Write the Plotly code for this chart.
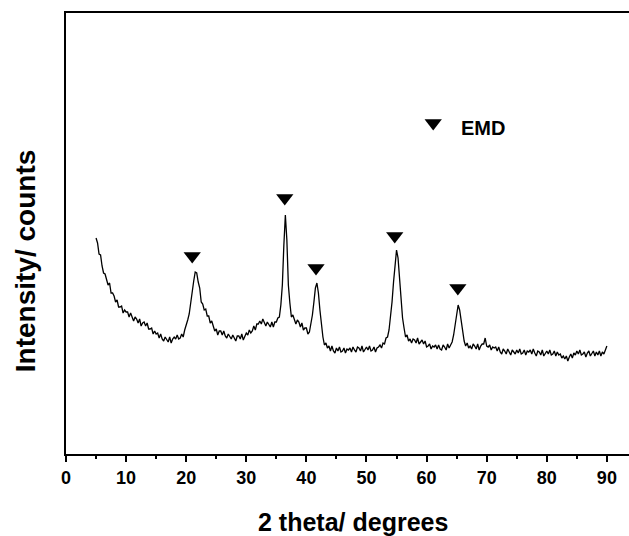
import numpy as np
import plotly.graph_objects as go

# scan grid (2-theta, degrees), 0.25 deg steps from 5 to 90
two_theta = list(np.round(np.arange(5.0, 90.001, 0.25), 2))

# intensity (arbitrary counts)
intensity = [
    215, 210, 199, 198, 187, 180, 179, 174, 168, 170,
    160, 160, 157, 151, 153, 146, 146, 147, 140, 143,
    141, 141, 136, 140, 135, 132, 136, 134, 130, 134,
    127, 130, 131, 127, 130, 124, 124, 125, 119, 122,
    119, 120, 115, 119, 114, 112, 116, 114, 111, 116,
    110, 114, 116, 114, 118, 114, 115, 119, 116, 123,
    127, 133, 139, 151, 161, 172, 181, 180, 171, 165,
    151, 149, 143, 144, 137, 137, 130, 132, 127, 122,
    124, 118, 122, 122, 118, 122, 117, 115, 119, 116,
    114, 118, 114, 112, 117, 117, 114, 119, 113, 117,
    120, 118, 123, 120, 122, 127, 123, 129, 129, 132,
    129, 134, 130, 127, 131, 129, 126, 131, 126, 131,
    131, 135, 136, 148, 168, 208, 238, 213, 168, 150,
    136, 138, 132, 129, 133, 131, 126, 130, 123, 125,
    125, 119, 121, 128, 138, 151, 165, 170, 160, 143,
    128, 116, 108, 110, 105, 107, 102, 107, 102, 100,
    105, 102, 106, 101, 102, 105, 100, 104, 103, 105,
    101, 106, 103, 101, 106, 105, 102, 107, 101, 104,
    106, 103, 107, 102, 103, 106, 101, 105, 106, 108,
    105, 110, 109, 115, 116, 123, 135, 151, 171, 191,
    203, 195, 175, 153, 135, 125, 116, 118, 112, 114,
    110, 114, 113, 110, 115, 109, 111, 113, 109, 112,
    106, 107, 109, 104, 107, 106, 108, 104, 108, 104,
    103, 108, 106, 103, 109, 105, 108, 111, 118, 128,
    141, 148, 143, 131, 118, 112, 107, 110, 105, 107,
    104, 109, 107, 104, 109, 103, 107, 109, 109, 115,
    107, 106, 108, 103, 106, 105, 106, 102, 106, 101,
    99, 104, 102, 99, 104, 100, 98, 103, 101, 99,
    103, 100, 104, 99, 100, 103, 98, 102, 101, 103,
    99, 104, 100, 97, 102, 101, 98, 103, 97, 100,
    102, 99, 103, 98, 99, 102, 97, 101, 98, 99,
    95, 97, 94, 97, 92, 96, 99, 95, 100, 98,
    102, 99, 103, 98, 99, 101, 96, 100, 102, 97,
    100, 102, 97, 101, 98, 102, 97, 101, 99, 103,
    107,
]

# EMD reflection markers
emd_theta = [21.0, 36.4, 41.6, 54.7, 65.2]
emd_marker_y = [197, 255, 185, 217, 165]

# legend entry
legend_theta = [61.1]
legend_y = [330]
legend_label = "EMD"

x_ticks = [0, 10, 20, 30, 40, 50, 60, 70, 80, 90]
x_title = "2 theta/ degrees"
y_title = "Intensity/ counts"

FONT = "Liberation Sans, Arial, sans-serif"

fig = go.Figure()
fig.add_trace(go.Scatter(
    x=two_theta, y=intensity, mode="lines",
    line=dict(color="black", width=1.3), showlegend=False, hoverinfo="skip"))
fig.add_trace(go.Scatter(
    x=emd_theta, y=emd_marker_y, mode="markers",
    marker=dict(symbol="triangle-down", size=15, color="black"),
    showlegend=False, hoverinfo="skip"))
fig.add_trace(go.Scatter(
    x=legend_theta, y=legend_y, mode="markers",
    marker=dict(symbol="triangle-down", size=15, color="black"),
    showlegend=False, hoverinfo="skip"))
fig.add_annotation(x=legend_theta[0] + 4.3, y=legend_y[0] - 5, text="<b>" + legend_label + "</b>",
                   showarrow=False, xanchor="left", yanchor="middle",
                   font=dict(family=FONT, size=20, color="black"))
# axis titles placed as in the reference
fig.add_annotation(xref="paper", yref="paper", x=0.510, y=-0.154,
                   text="<b>" + x_title + "</b>", showarrow=False,
                   xanchor="center", yanchor="middle",
                   font=dict(family=FONT, size=25, color="black"))
fig.add_annotation(xref="paper", yref="paper", x=-0.073, y=0.437,
                   text="<b>" + y_title + "</b>", showarrow=False, textangle=-90,
                   xanchor="center", yanchor="middle",
                   font=dict(family=FONT, size=28, color="black"))

fig.update_layout(
    width=629, height=536,
    margin=dict(l=66, r=0, t=13, b=82),
    paper_bgcolor="white", plot_bgcolor="white",
    showlegend=False,
    font=dict(family=FONT, color="black"),
    xaxis=dict(
        range=[0, 93.68], tickvals=x_ticks,
        ticktext=["<b>%d</b>" % v for v in x_ticks],
        tickfont=dict(family=FONT, size=18, color="black"),
        ticks="outside", ticklen=6, tickwidth=2, tickcolor="black",
        minor=dict(dtick=5, tick0=0, ticks="outside", ticklen=3, tickwidth=2, tickcolor="black"),
        showline=True, linecolor="black", linewidth=2, mirror=True,
        showgrid=False, zeroline=False,
    ),
    yaxis=dict(
        range=[-1, 440], showticklabels=False, ticks="",
        showline=True, linecolor="black", linewidth=2, mirror=False,
        showgrid=False, zeroline=False,
    ),
)

fig.write_html("out.html", config={"displayModeBar": False},
               post_script="document.body.style.margin='0';document.body.style.overflow='hidden';")
